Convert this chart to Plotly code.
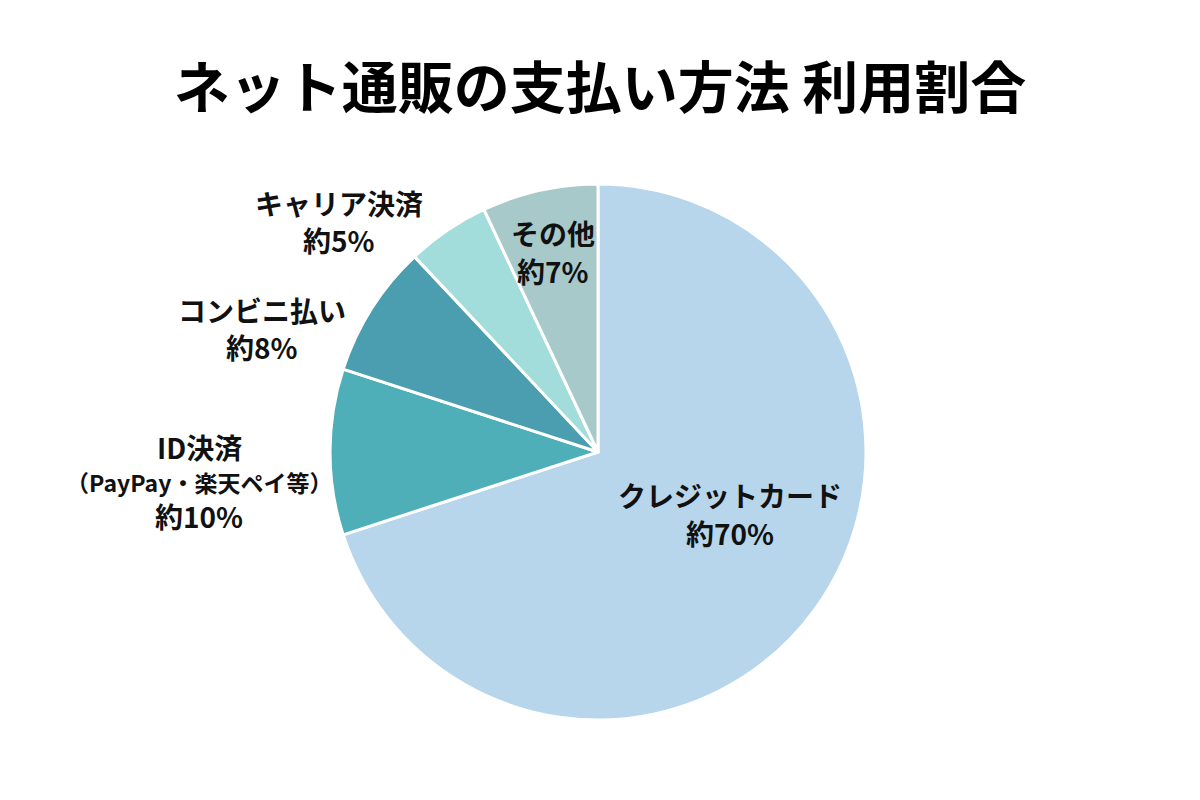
import plotly.graph_objects as go

# Data
categories = ["クレジットカード", "ID決済", "コンビニ払い", "キャリア決済", "その他"]
values = [70, 10, 8, 5, 7]
sublabels = ["", "（PayPay・楽天ペイ等）", "", "", ""]
value_texts = ["約70%", "約10%", "約8%", "約5%", "約7%"]
colors = ["#B7D6EC", "#4FAFB8", "#4A9EB0", "#A2DCDB", "#A8C9CA"]

title_text = "ネット通販の支払い方法 利用割合"

W, H = 1200, 800
FONT = "Noto Sans CJK JP"

# label placement in pixels: (x centre, [line y centres])
label_layout = [
    (730, [495, 533]),
    (199, [447, 482, 516]),
    (262, [310, 347]),
    (339, [203, 240]),
    (553, [233, 271]),
]

fig = go.Figure(go.Pie(
    labels=categories,
    values=values,
    sort=False,
    direction="clockwise",
    rotation=0,
    marker=dict(colors=colors, line=dict(color="white", width=3)),
    textinfo="none",
    hoverinfo="label+percent",
    domain=dict(x=[330/W, 866/W], y=[1-720/H, 1-184/H]),
    showlegend=False,
))

annotations = []
for cat, sub, vt, (px, pys) in zip(categories, sublabels, value_texts, label_layout):
    lines = [(cat, 28)]
    if sub:
        lines.append((sub, 23))
    lines.append((vt, 28))
    for (txt, size), py in zip(lines, pys):
        annotations.append(dict(
            x=px / W, y=1 - py / H, xref="paper", yref="paper", text=f"<b>{txt}</b>",
            showarrow=False, xanchor="center", yanchor="middle", align="center",
            borderpad=0,
            font=dict(family=FONT, size=size, color="#111111"),
        ))

fig.update_layout(
    width=W, height=H,
    paper_bgcolor="white", plot_bgcolor="white",
    margin=dict(l=0, r=0, t=0, b=0),
    title=dict(text=f"<b>{title_text}</b>", x=0.5, xanchor="center", y=0.89, yanchor="middle",
               font=dict(family=FONT, size=56, color="#000000")),
    annotations=annotations,
)

fig.write_html("out.html")
